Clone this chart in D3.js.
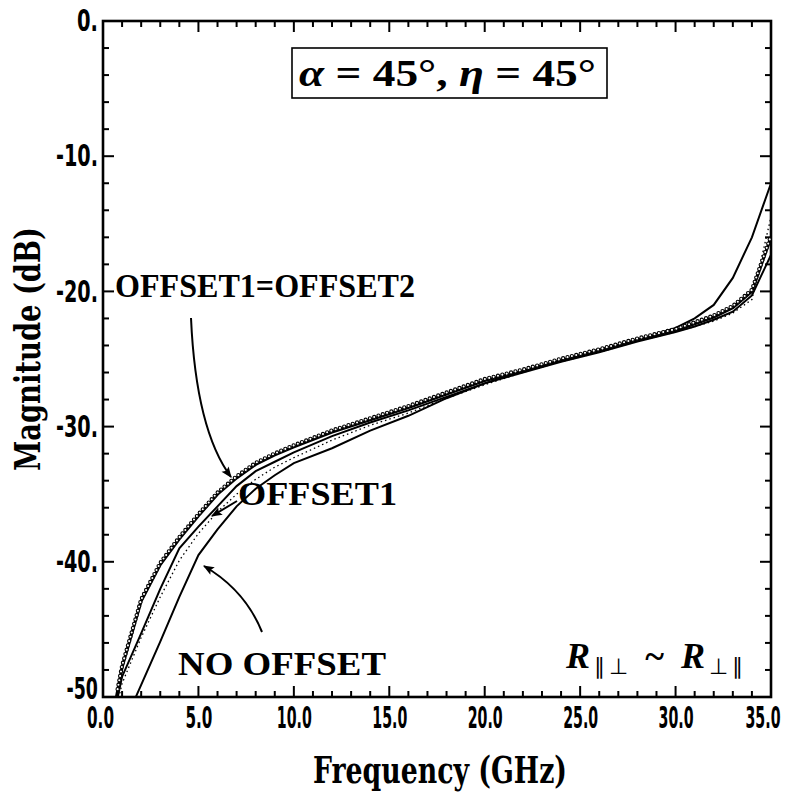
<!DOCTYPE html>
<html><head><meta charset="utf-8">
<script src="https://cdn.jsdelivr.net/npm/d3@7"></script>
<style>body{margin:0;background:#fff}svg{display:block}</style>
</head><body>
<script>
// ---- data ----
const freq = [0.5,1,2,3,4,5,6,7,8,9,10,12,14,16,18,20,22,24,26,28,30,31,32,33,34,35];
const offsetBoth = [-51.5,-47.8,-42.9,-40.2,-38.3,-36.6,-35.0,-33.8,-32.8,-32.1,-31.5,-30.4,-29.5,-28.6,-27.6,-26.6,-25.9,-25.1,-24.4,-23.6,-22.9,-22.4,-21.9,-21.2,-20.0,-16.0];
const offset1 = [-51.8,-48.5,-45.3,-42.0,-39.0,-37.4,-35.9,-34.4,-33.3,-32.6,-31.9,-30.7,-29.7,-28.8,-27.8,-26.8,-26.0,-25.2,-24.5,-23.7,-23.0,-22.6,-22.1,-21.5,-20.3,-17.3];
const dotted = [-52.0,-49.0,-45.6,-42.6,-39.9,-37.9,-36.3,-35.0,-33.9,-33.0,-32.3,-31.0,-29.9,-29.0,-27.9,-26.9,-26.0,-25.2,-24.5,-23.7,-23.0,-22.6,-22.2,-21.6,-20.6,-14.5];
const noOffset = [-54.0,-52.3,-49.1,-45.9,-42.6,-39.5,-37.6,-35.9,-34.6,-33.6,-32.7,-31.6,-30.3,-29.2,-27.9,-26.8,-25.9,-25.1,-24.3,-23.6,-22.7,-22.0,-21.0,-19.0,-16.0,-12.0];
const xTicks = [0,5,10,15,20,25,30,35];
const xTickLabels = ["0.0","5.0","10.0","15.0","20.0","25.0","30.0","35.0"];
const yTicks = [0,-10,-20,-30,-40,-50];
const yTickLabels = ["0.","-10.","-20.","-30.","-40.","-50"];

const W=788,H=799;
const L=103,R=771,T=21,B=697;
const svg=d3.select("body").append("svg").attr("width",W).attr("height",H);
const x=d3.scaleLinear().domain([0,35]).range([L,R]);
const y=d3.scaleLinear().domain([-50,0]).range([B,T]);

const defs=svg.append("defs");
defs.append("clipPath").attr("id","clip").append("rect")
  .attr("x",L).attr("y",T).attr("width",R-L).attr("height",B-T);
defs.append("marker").attr("id","ah").attr("viewBox","0 0 10 10")
  .attr("refX",9).attr("refY",5).attr("markerWidth",18).attr("markerHeight",11)
  .attr("markerUnits","userSpaceOnUse").attr("orient","auto")
  .append("path").attr("d","M0,1 L10,5 L0,9 L2,5 Z").attr("fill","#000");

const condensed="'DejaVu Sans Condensed','Liberation Sans Narrow',sans-serif";
const serifC="'DejaVu Serif Condensed','Liberation Serif',serif";

// ticks (inward, all four sides)
const g=svg.append("g");
d3.range(0,35.01,1).forEach(f=>{
  const maj=f%5===0, len=maj?11:6;
  g.append("line").attr("x1",x(f)).attr("x2",x(f)).attr("y1",B).attr("y2",B-len).attr("stroke","#000").attr("stroke-width",2);
  g.append("line").attr("x1",x(f)).attr("x2",x(f)).attr("y1",T).attr("y2",T+len).attr("stroke","#000").attr("stroke-width",2);
});
d3.range(-50,0.01,2).forEach(v=>{
  const maj=v%10===0, len=maj?11:6;
  g.append("line").attr("x1",L).attr("x2",L+len).attr("y1",y(v)).attr("y2",y(v)).attr("stroke","#000").attr("stroke-width",2);
  g.append("line").attr("x1",R).attr("x2",R-len).attr("y1",y(v)).attr("y2",y(v)).attr("stroke","#000").attr("stroke-width",2);
});
svg.append("rect").attr("x",L).attr("y",T).attr("width",R-L).attr("height",B-T)
  .attr("fill","none").attr("stroke","#000").attr("stroke-width",2.6);

// axes labels via d3 axes (no lines)
const last=xTicks.length-1;
const xa=svg.append("g").attr("transform",`translate(0,${B})`)
  .call(d3.axisBottom(x).tickValues(xTicks).tickSize(0).tickPadding(0).tickFormat((d,i)=>xTickLabels[i]));
xa.select(".domain").remove();
xa.selectAll("text").attr("y",10).attr("font-family",condensed)
  .attr("font-weight","bold").attr("font-size",30).attr("fill","#000")
  .attr("textLength",(d,i)=>xTickLabels[i].length===3?27:35).attr("lengthAdjust","spacingAndGlyphs")
  .attr("text-anchor",(d,i)=>i===last?"end":"middle")
  .attr("x",(d,i)=>i===last?9:0)
  .attr("dx",(d,i)=>i===0?-3:0);
const ya=svg.append("g").attr("transform",`translate(${L},0)`)
  .call(d3.axisLeft(y).tickValues(yTicks).tickSize(0).tickPadding(0).tickFormat((d,i)=>yTickLabels[i]));
ya.select(".domain").remove();
ya.selectAll("text").attr("x",-5).attr("font-family",condensed)
  .attr("font-weight","bold").attr("font-size",30).attr("fill","#000")
  .attr("textLength",(d,i)=>yTickLabels[i].length*10.5).attr("lengthAdjust","spacingAndGlyphs")
  .attr("dy",(d,i)=>i===yTicks.length-1?"0.05em":"0.32em");

// axis titles
svg.append("text").attr("x",440).attr("y",783).attr("text-anchor","middle")
  .attr("font-family",serifC).attr("font-size",38).attr("font-weight","bold")
  .attr("textLength",254).attr("lengthAdjust","spacingAndGlyphs").text("Frequency (GHz)");
svg.append("text").attr("transform","translate(40,349) rotate(-90)").attr("text-anchor","middle")
  .attr("font-family",serifC).attr("font-size",36).attr("font-weight","bold")
  .attr("textLength",244).attr("lengthAdjust","spacingAndGlyphs").text("Magnitude (dB)");

// curves
const line=(vals)=>d3.line().x((d,i)=>x(freq[i])).y(d=>y(d))(vals);
const cg=svg.append("g").attr("clip-path","url(#clip)");
cg.append("path").attr("d",line(noOffset)).attr("fill","none").attr("stroke","#000").attr("stroke-width",2);
cg.append("path").attr("d",line(dotted)).attr("fill","none").attr("stroke","#000").attr("stroke-width",1.3).attr("stroke-dasharray","1.5,3");
cg.append("path").attr("d",line(offset1)).attr("fill","none").attr("stroke","#000").attr("stroke-width",2);
const pA=cg.append("path").attr("d",line(offsetBoth)).attr("fill","none").attr("stroke","#000").attr("stroke-width",3);
// markers along the OFFSET1=OFFSET2 curve
const node=pA.node(), tot=node.getTotalLength();
const pts=d3.range(0,tot,4.5).map(l=>node.getPointAtLength(l)).filter(p=>p.y<B-4);
cg.selectAll("circle.m").data(pts).join("circle").attr("class","m")
  .attr("cx",p=>p.x).attr("cy",p=>p.y-1.6).attr("r",1.6)
  .attr("fill","#fff").attr("stroke","#000").attr("stroke-width",1.1);

// title box
svg.append("rect").attr("x",292).attr("y",48).attr("width",315).attr("height",50)
  .attr("fill","#fff").attr("stroke","#000").attr("stroke-width",1.6);
const tt=svg.append("text").attr("x",299).attr("y",86).attr("font-family","'Liberation Serif',serif")
  .attr("font-size",37).attr("font-weight","bold").attr("textLength",297).attr("lengthAdjust","spacingAndGlyphs");
tt.append("tspan").attr("font-style","italic").text("α");
tt.append("tspan").text(" = 45°, ");
tt.append("tspan").attr("font-style","italic").text("η");
tt.append("tspan").text(" = 45°");

// annotations
const ann=(t,xx,yy,w)=>svg.append("text").attr("x",xx).attr("y",yy).attr("font-family","'Liberation Serif',serif")
  .attr("font-size",33).attr("font-weight","bold").attr("textLength",w).attr("lengthAdjust","spacingAndGlyphs").text(t);
ann("OFFSET1=OFFSET2",115,297,300);
ann("OFFSET1",238,505,159);
ann("NO OFFSET",178,675,208);

// arrows
const arr=(d)=>svg.append("path").attr("d",d).attr("fill","none").attr("stroke","#000").attr("stroke-width",2).attr("marker-end","url(#ah)");
arr("M191,318 Q196,430 231,477");
arr("M237,501 L212,516");
arr("M262,632 Q245,590 204,566");

// R label
const rl=svg.append("text").attr("x",566).attr("y",668).attr("font-family","'Liberation Serif',serif")
  .attr("font-size",36).attr("font-weight","bold").attr("textLength",177).attr("lengthAdjust","spacing");
rl.append("tspan").attr("font-style","italic").text("R");
rl.append("tspan").attr("font-size",22).attr("dy",6).attr("font-weight","normal").text("∥⊥");
rl.append("tspan").attr("dy",-6).text("  ~  ");
rl.append("tspan").attr("font-style","italic").text("R");
rl.append("tspan").attr("font-size",22).attr("dy",6).attr("font-weight","normal").text("⊥∥");
</script>
</body></html>
